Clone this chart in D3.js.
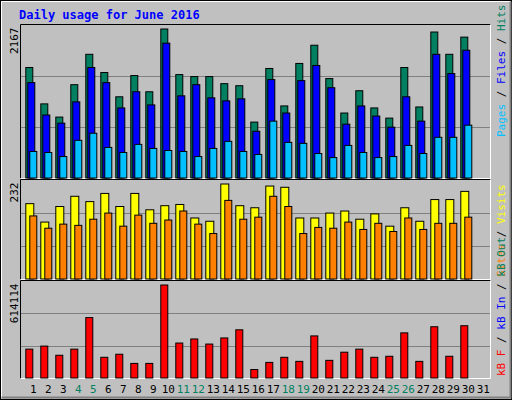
<!DOCTYPE html>
<html><head><meta charset="utf-8">
<script src="https://cdnjs.cloudflare.com/ajax/libs/d3/7.8.5/d3.min.js"></script>
<style>body{margin:0;background:#fff}</style>
</head><body>
<script>
var days = d3.range(1, 32);
var weekend = [4, 5, 11, 12, 18, 19, 25, 26];
var hits  = [1607,1078,886,1357,1799,1534,1181,1490,1254,2167,1504,1475,1475,1372,1342,813,1593,1048,1666,1931,1446,945,1269,1019,871,1607,1033,2123,1799,2049];
var files = [1387,916,798,1107,1607,1387,1019,1254,1063,1961,1195,1357,1166,1122,1151,680,1431,945,1416,1637,1313,783,1048,901,739,1181,827,1799,1519,1858];
var pages = [386,371,312,548,651,445,371,489,430,400,386,312,430,533,386,342,827,518,504,356,297,474,371,297,312,474,356,592,592,768];
var visits = [184,139,177,202,189,209,177,209,169,179,182,149,141,232,179,174,227,224,149,149,161,166,146,159,129,174,141,194,194,214];
var sites  = [154,124,134,131,146,161,129,156,136,144,166,134,111,192,146,151,202,177,111,126,124,139,121,136,116,149,121,136,136,151];
var kbytes = [190511,210682,150167,190511,398951,136719,156891,96376,96376,614114,230854,257750,224130,264473,318265,56033,103100,136719,109824,277921,116548,170339,190511,136719,143443,298093,109824,338436,143443,345160];

var svg = d3.select("body").append("svg").attr("width", 512).attr("height", 400);
svg.append("rect").attr("x", 0.5).attr("y", 0.5).attr("width", 511).attr("height", 399)
  .attr("fill", "#c0c0c0").attr("stroke", "#000");
svg.append("path").attr("d", "M1.5,398.5V1.5H510.5").attr("fill", "none").attr("stroke", "#fff");
svg.append("path").attr("d", "M1.5,397.5H510.5V1.5").attr("fill", "none").attr("stroke", "#808080").attr("stroke-width", 2);

svg.append("text").attr("x", 19).attr("y", 19).text("Daily usage for June 2016")
  .attr("font-family", "DejaVu Sans Mono").attr("font-weight", "bold").attr("font-size", 12).attr("fill", "#0000ff");

var x = d3.scaleLinear().domain([1, 31]).range([25.3, 475.3]);

function panel(y0, y1, maxv, label) {
  svg.append("path").attr("d", "M20.5," + y1 + "V" + y0 + "H490.5").attr("fill", "none").attr("stroke", "#000");
  svg.append("path").attr("d", "M20.5," + y1 + "H490.5V" + y0).attr("fill", "none").attr("stroke", "#fff");
  var y = d3.scaleLinear().domain([0, maxv]).range([y1 - 1, y0 + 4]);
  [1, 2].forEach(function (k) {
    var gy = Math.round(y1 - (y1 - y0) * k / 3) + 0.5;
    svg.append("line").attr("x1", 21).attr("x2", 490).attr("y1", gy).attr("y2", gy).attr("stroke", "#808080");
  });
  svg.append("text").attr("transform", "translate(18," + (y0 + 3) + ") rotate(-90)")
    .attr("text-anchor", "end").attr("font-family", "DejaVu Sans Mono").attr("font-size", 11).text(label);
  return y;
}

function bars(y, data, off, w, color) {
  svg.append("g").selectAll("rect").data(data).enter().append("rect")
    .attr("x", function (d, i) { return x(i + 1) + off + 0.5; })
    .attr("y", function (d) { return y(d) + 0.5; })
    .attr("width", w).attr("height", function (d) { return y(0) - y(d); })
    .attr("fill", color).attr("stroke", "#000");
}

var y1 = panel(24.5, 178.5, 2167, "2167");
bars(y1, hits, 0, 7, "#008060");
bars(y1, files, 2, 7, "#0000ff");
bars(y1, pages, 4, 7, "#00c0ff");

var y2 = panel(179.5, 279.5, 232, "232");
bars(y2, visits, 0, 8, "#ffff00");
bars(y2, sites, 4, 7, "#ff8000");

var y3 = panel(280.5, 378.5, 614114, "614114");
bars(y3, kbytes, 0, 7, "#ff0000");

svg.append("g").selectAll("text").data(days).enter().append("text")
  .attr("x", function (d) { return x(d) + 8; }).attr("y", 393)
  .attr("text-anchor", "middle").attr("font-family", "DejaVu Sans Mono").attr("font-size", 11)
  .attr("fill", function (d) { return weekend.indexOf(d) >= 0 ? "#008060" : "#000"; })
  .text(function (d) { return d; });

function legend(yBottom, parts) {
  var t = svg.append("text").attr("transform", "translate(505," + yBottom + ") rotate(-90)")
    .attr("font-family", "DejaVu Sans Mono").attr("font-size", 11);
  parts.forEach(function (p) { t.append("tspan").attr("fill", p[1]).text(p[0]); });
}
legend(137, [["Pages", "#00c0ff"], [" / ", "#000"], ["Files", "#0000ff"], [" / ", "#000"], ["Hits", "#008060"]]);
legend(277, [["Sites", "#ff8000"], [" / ", "#000"], ["Visits", "#ffff00"]]);
legend(376, [["kB F", "#ff0000"], [" / ", "#000"], ["kB In", "#0000ff"], [" / ", "#000"], ["kB Out", "#008060"]]);
</script>
</body></html>
